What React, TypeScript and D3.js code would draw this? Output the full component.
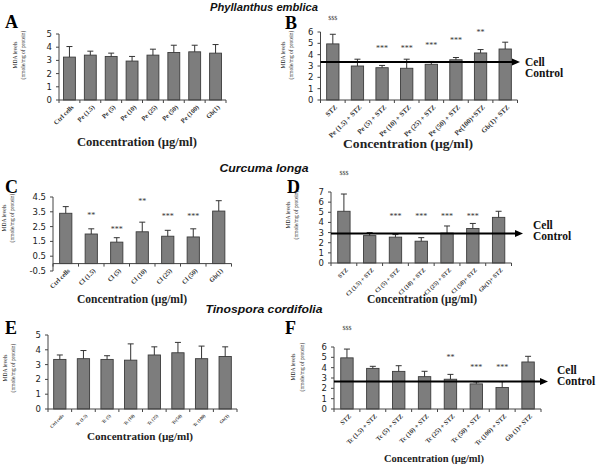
import React from 'react';
import * as d3 from 'd3';

// ---------- data ----------
const catsA = ['Ctrl cells', 'Pe (1.5)', 'Pe (5)', 'Pe (10)', 'Pe (25)', 'Pe (50)', 'Pe (100)', 'Gb(1)'];
const meanA = [3.25, 3.4, 3.3, 2.95, 3.4, 3.6, 3.65, 3.55];
const errA = [0.8, 0.3, 0.25, 0.35, 0.45, 0.55, 0.5, 0.65];
const ticksA = [0, 1, 2, 3, 4, 5];

const catsB = ['STZ', 'Pe (1.5) + STZ', 'Pe (5) + STZ', 'Pe (10) + STZ', 'Pe (25) + STZ', 'Pe (50) + STZ', 'Pe(100)+STZ', 'Gb(1)+ STZ'];
const meanB = [4.95, 3.0, 2.85, 2.8, 3.15, 3.55, 4.15, 4.5];
const errB = [0.85, 0.6, 0.2, 0.8, 0.25, 0.2, 0.3, 0.6];
const sigB = ['$$$', '', '***', '***', '***', '***', '**', ''];
const sigYB = [7.05, 0, 4.3, 4.3, 4.6, 5.0, 5.7, 0];
const ctrlB = 3.35;
const ticksB = [0, 1, 2, 3, 4, 5, 6];

const catsC = ['Ctrl cells', 'Cl (1.5)', 'Cl (5)', 'Cl (10)', 'Cl (25)', 'Cl (50)', 'Gb(1)'];
const meanC = [3.4, 2.0, 1.45, 2.15, 1.85, 1.8, 3.55];
const errC = [0.45, 0.35, 0.3, 0.65, 0.4, 0.55, 0.7];
const sigC = ['', '**', '***', '**', '***', '***', ''];
const sigYC = [0, 3.05, 2.15, 4.0, 3.0, 3.0, 0];
const ticksC = [-0.5, 0.5, 1.5, 2.5, 3.5, 4.5];

const catsD = ['STZ', 'Cl (1.5) + STZ', 'Cl (5) + STZ', 'Cl (10) + STZ', 'Cl (25) + STZ', 'Cl (50)+ STZ', 'Gb(1)+ STZ'];
const meanD = [5.1, 2.7, 2.55, 2.15, 2.95, 3.4, 4.5];
const errD = [1.7, 0.3, 0.25, 0.35, 0.7, 0.5, 0.6];
const sigD = ['$$$', '', '***', '***', '***', '***', ''];
const sigYD = [8.7, 0, 4.35, 4.35, 4.35, 4.35, 0];
const ctrlD = 2.9;
const ticksD = [0, 1, 2, 3, 4, 5, 6, 7];

const catsE = ['Ctrl cells', 'Tc (1.5)', 'Tc (5)', 'Tc (10)', 'Tc (25)', 'Tc(50)', 'Tc (100)', 'Gb(1)'];
const meanE = [3.35, 3.4, 3.35, 3.3, 3.65, 3.8, 3.4, 3.55];
const errE = [0.3, 0.55, 0.25, 1.1, 0.55, 0.7, 0.85, 0.65];
const ticksE = [0, 1, 2, 3, 4, 5];

const catsF = ['STZ', 'Tc (1.5) + STZ', 'Tc (5) + STZ', 'Tc (10) + STZ', 'Tc (25) + STZ', 'Tc (50) + STZ', 'Tc (100) + STZ', 'Gb (1)+ STZ'];
const meanF = [4.95, 3.93, 3.64, 3.13, 2.88, 2.43, 2.08, 4.55];
const errF = [0.85, 0.2, 0.55, 0.52, 0.47, 0.19, 0.57, 0.55];
const sigF = ['$$$', '', '', '', '**', '***', '***', ''];
const sigYF = [7.6, 0, 0, 0, 4.7, 3.75, 3.75, 0];
const ctrlF = 2.65;
const ticksF = [0, 1, 2, 3, 4, 5, 6];

const speciesTitles = ['Phyllanthus emblica', 'Curcuma longa', 'Tinospora cordifolia'];
const xTitle = 'Concentration (µg/ml)';
const yTitle1 = 'MDA levels';
const yTitle2 = '(nmole/mg of protein)';

// ---------- styles ----------
const BAR_FILL = '#7d7d7d';
const BAR_STROKE = '#3c3c3c';
const AXIS = '#444';
const SERIF = '"Liberation Serif", "Times New Roman", serif';
const SANS = '"DejaVu Sans", Verdana, sans-serif';

type PanelProps = {
  cats: string[];
  means: number[];
  errs: number[];
  sig?: string[];
  sigY?: number[];
  ctrl?: number;
  ticks: number[];
  x0: number;
  x1: number;
  yTop: number;
  yBot: number;
  pad: number;
  labelSize: number;
  letter: string;
  letterX: number;
  letterY: number;
  xt: { x: number; y: number; size: number; len: number };
  yt: { x1: number; x2: number; cy: number; size: number };
  ct?: { end: number; x: number; y1: number; y2: number; size: number };
};

function Panel(p: PanelProps) {
  const x = d3.scaleBand<string>().domain(p.cats).range([p.x0, p.x1]).paddingInner(p.pad).paddingOuter(p.pad / 2);
  const lo = d3.min(p.ticks) as number;
  const hi = d3.max(p.ticks) as number;
  const y = d3.scaleLinear().domain([lo, hi]).range([p.yBot, p.yTop]);
  const base = y(Math.max(0, lo));
  const step = x.step();
  const bw = x.bandwidth();
  const cap = 3;
  return (
    <g>
      <text x={p.letterX} y={p.letterY} fontFamily={SERIF} fontWeight="bold" fontSize={18} fill="#000">{p.letter}</text>
      {/* y axis title */}
      <text transform={`translate(${p.yt.x1},${p.yt.cy}) rotate(-90)`} textAnchor="middle" fontFamily={SERIF} fontSize={p.yt.size} fill="#222">{yTitle1}</text>
      <text transform={`translate(${p.yt.x2},${p.yt.cy}) rotate(-90)`} textAnchor="middle" fontFamily={SERIF} fontSize={p.yt.size} fill="#222">{yTitle2}</text>
      {/* y axis */}
      <line x1={p.x0} x2={p.x0} y1={y(lo)} y2={y(hi)} stroke={AXIS} strokeWidth={1} />
      {p.ticks.map((t) => (
        <g key={t}>
          <line x1={p.x0 - 3} x2={p.x0} y1={y(t)} y2={y(t)} stroke={AXIS} />
          <text x={p.x0 - 7} y={y(t)} dy="0.35em" textAnchor="end" fontFamily={SANS} fontSize={8.5} fill="#222">{t}</text>
        </g>
      ))}
      {/* bars */}
      {p.cats.map((c, i) => {
        const cx = (x(c) as number) + bw / 2;
        const top = y(p.means[i]);
        const et = y(p.means[i] + p.errs[i]);
        return (
          <g key={c}>
            <rect x={x(c)} y={top} width={bw} height={base - top} fill={BAR_FILL} stroke={BAR_STROKE} strokeWidth={0.9} />
            <line x1={cx} x2={cx} y1={top} y2={et} stroke="#333" strokeWidth={1} />
            <line x1={cx - cap} x2={cx + cap} y1={et} y2={et} stroke="#333" strokeWidth={1} />
            {p.sig && p.sig[i] ? (
              <text x={cx} y={y((p.sigY as number[])[i])} textAnchor="middle" fontFamily={SERIF} fontSize={p.sig[i].startsWith('$') ? 6 : 8} fill="#333">{p.sig[i]}</text>
            ) : null}
            <text transform={`translate(${cx + 3},${base + 6}) rotate(-45)`} textAnchor="end" dy="0.35em" fontFamily={SERIF} fontWeight="bold" fontSize={p.labelSize} fill="#333">{c}</text>
          </g>
        );
      })}
      {/* x axis */}
      <line x1={p.x0} x2={p.x1} y1={base} y2={base} stroke={AXIS} strokeWidth={1} />
      {d3.range(p.cats.length + 1).map((i) => (
        <line key={i} x1={p.x0 + i * step} x2={p.x0 + i * step} y1={base} y2={base + 3} stroke={AXIS} />
      ))}
      {/* control line */}
      {p.ctrl !== undefined && p.ct ? (
        <g>
          <line x1={p.x0} x2={p.ct.end - 6} y1={y(p.ctrl)} y2={y(p.ctrl)} stroke="#000" strokeWidth={2} />
          <polygon points={`${p.ct.end},${y(p.ctrl)} ${p.ct.end - 8},${y(p.ctrl) - 3.5} ${p.ct.end - 8},${y(p.ctrl) + 3.5}`} fill="#000" />
          <text x={p.ct.x} y={p.ct.y1} fontFamily={SERIF} fontWeight="bold" fontSize={p.ct.size} fill="#111">Cell</text>
          <text x={p.ct.x} y={p.ct.y2} fontFamily={SERIF} fontWeight="bold" fontSize={p.ct.size} fill="#111">Control</text>
        </g>
      ) : null}
      <text x={p.xt.x} y={p.xt.y} textAnchor="middle" fontFamily={SERIF} fontWeight="bold" fontSize={p.xt.size} textLength={p.xt.len} lengthAdjust="spacingAndGlyphs" fill="#222">{xTitle}</text>
    </g>
  );
}

export default function App() {
  const titleY = [11, 172, 313];
  const titleLen = [108, 89, 117];
  return (
    <svg width={600} height={465} style={{ position: 'absolute', left: 0, top: 0, background: '#fff' }} xmlns="http://www.w3.org/2000/svg">
      <rect width={600} height={465} fill="#fff" />
      {speciesTitles.map((t, i) => (
        <text key={t} x={264} y={titleY[i]} textAnchor="middle" fontFamily='"Liberation Sans", Arial, sans-serif' fontStyle="italic" fontWeight="bold" fontSize={10} textLength={titleLen[i]} lengthAdjust="spacingAndGlyphs" fill="#111">{t}</text>
      ))}
      <Panel cats={catsA} means={meanA} errs={errA} ticks={ticksA} x0={59} x1={226} yTop={34} yBot={100} pad={0.43} labelSize={6.5}
        letter="A" letterX={5} letterY={28}
        xt={{ x: 137, y: 146, size: 12, len: 120 }} yt={{ x1: 17, x2: 25, cy: 55, size: 5.5 }} />
      <Panel cats={catsB} means={meanB} errs={errB} sig={sigB} sigY={sigYB} ctrl={ctrlB} ticks={ticksB} x0={320.5} x1={517.5} yTop={32} yBot={100} pad={0.5} labelSize={7}
        letter="B" letterX={285} letterY={29}
        xt={{ x: 408, y: 148, size: 13, len: 130 }} yt={{ x1: 285, x2: 293, cy: 55, size: 5.5 }}
        ct={{ end: 520, x: 525, y1: 66, y2: 77, size: 11.5 }} />
      <Panel cats={catsC} means={meanC} errs={errC} sig={sigC} sigY={sigYC} ticks={ticksC} x0={53} x1={231.5} yTop={197} yBot={271} pad={0.52} labelSize={6.5}
        letter="C" letterX={5} letterY={193}
        xt={{ x: 132, y: 303, size: 11.5, len: 110 }} yt={{ x1: 6, x2: 14, cy: 218, size: 5.5 }} />
      <Panel cats={catsD} means={meanD} errs={errD} sig={sigD} sigY={sigYD} ctrl={ctrlD} ticks={ticksD} x0={331} x1={511.5} yTop={192} yBot={263} pad={0.52} labelSize={6}
        letter="D" letterX={287} letterY={193}
        xt={{ x: 422, y: 303, size: 11.5, len: 110 }} yt={{ x1: 290, x2: 298, cy: 215, size: 5.5 }}
        ct={{ end: 523, x: 533, y1: 229, y2: 240, size: 11.5 }} />
      <Panel cats={catsE} means={meanE} errs={errE} ticks={ticksE} x0={48} x1={237} yTop={335} yBot={409} pad={0.48} labelSize={4.5}
        letter="E" letterX={5} letterY={334}
        xt={{ x: 140, y: 440, size: 11, len: 106 }} yt={{ x1: 7, x2: 15, cy: 368, size: 5.5 }} />
      <Panel cats={catsF} means={meanF} errs={errF} sig={sigF} sigY={sigYF} ctrl={ctrlF} ticks={ticksF} x0={334} x1={541} yTop={347} yBot={409} pad={0.52} labelSize={6.5}
        letter="F" letterX={285} letterY={334}
        xt={{ x: 434, y: 462, size: 10.5, len: 100 }} yt={{ x1: 295, x2: 304, cy: 367, size: 5.5 }}
        ct={{ end: 548, x: 557, y1: 374, y2: 385, size: 11.5 }} />
    </svg>
  );
}
